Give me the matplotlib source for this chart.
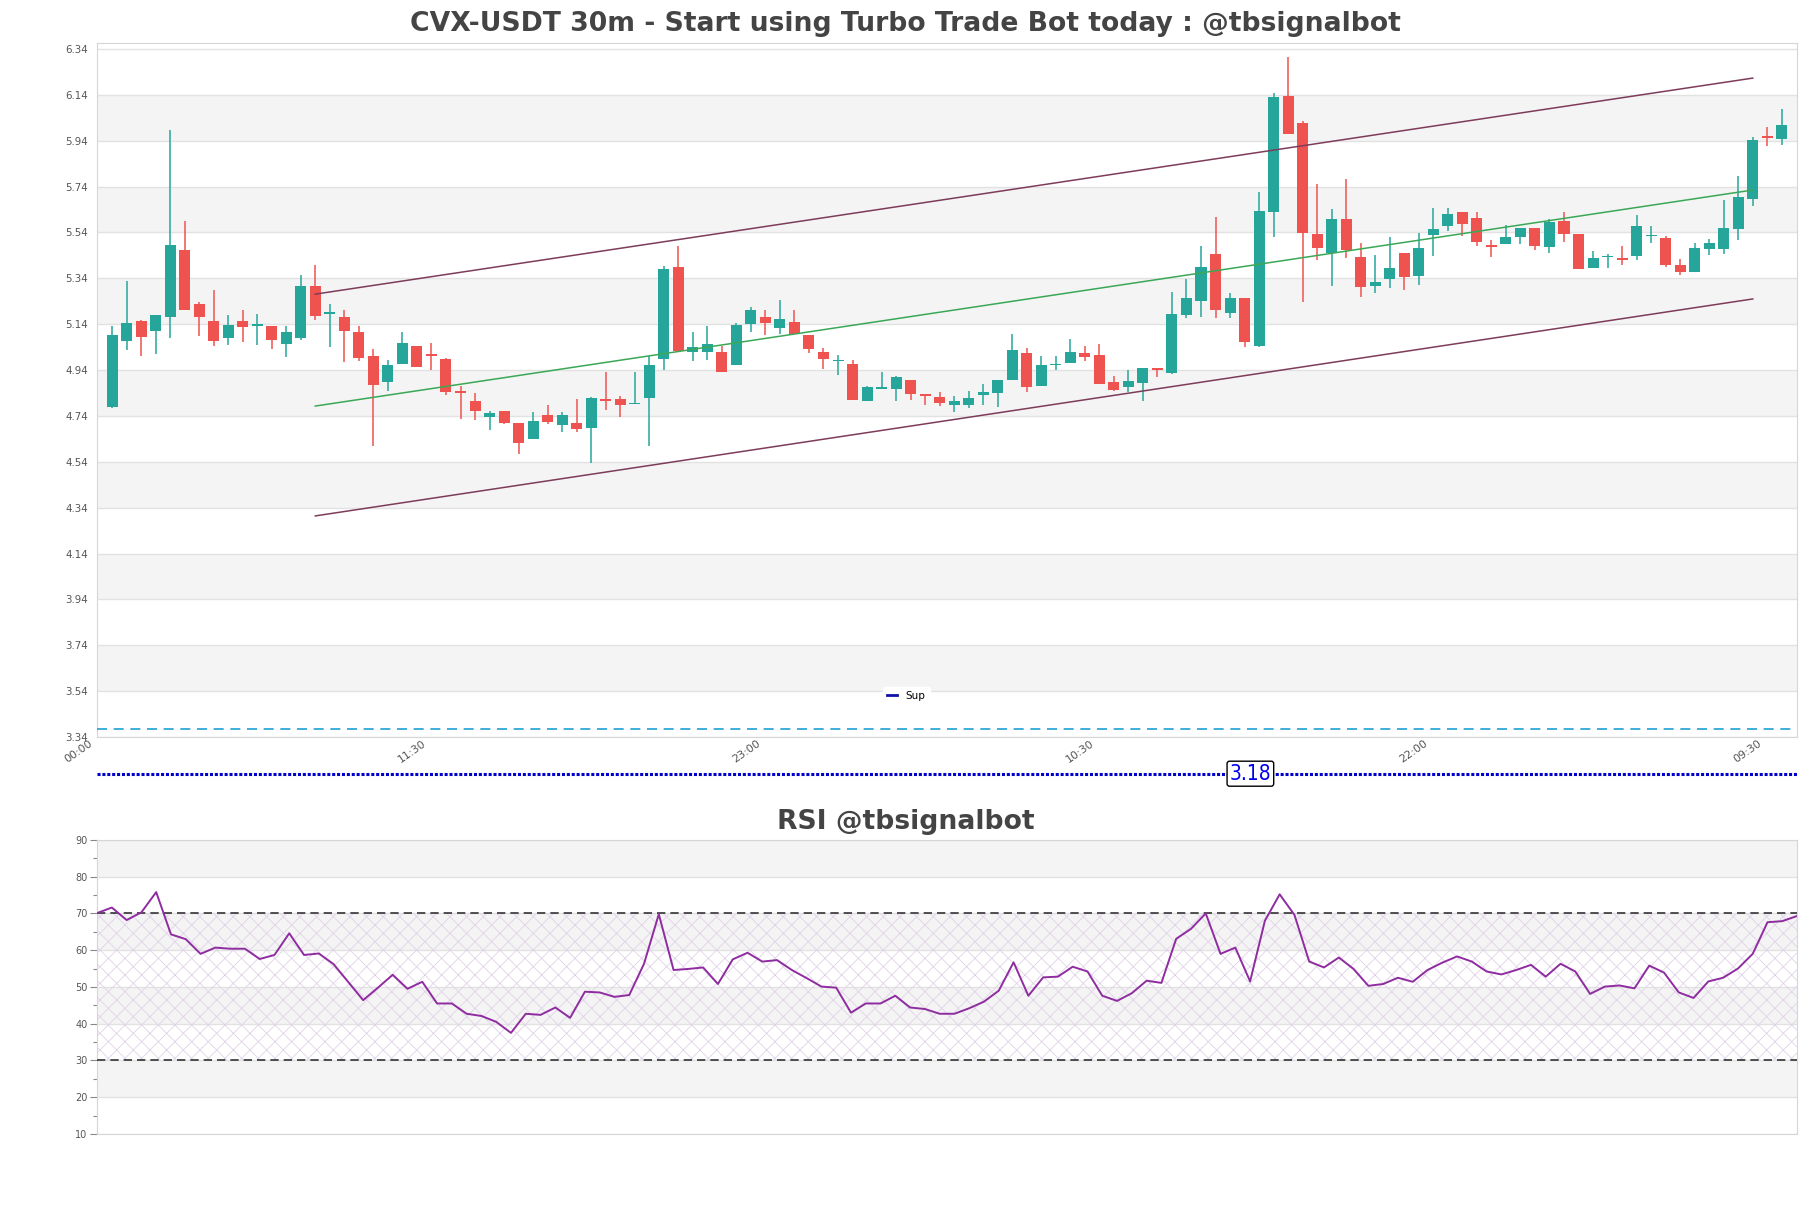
import numpy as np
import matplotlib
matplotlib.use("Agg")
import matplotlib.pyplot as plt
import matplotlib.transforms as mtransforms
from matplotlib.lines import Line2D

# ---- data ----
opens = [4.778, 5.066, 5.156, 5.109, 5.172, 5.465, 5.226, 5.156, 5.079, 5.156,
         5.133, 5.134, 5.053, 5.079, 5.308, 5.186, 5.173, 5.104, 5.003, 4.887,
         4.966, 5.047, 5.012, 4.990, 4.850, 4.807, 4.734, 4.760, 4.707, 4.638,
         4.744, 4.699, 4.711, 4.686, 4.814, 4.814, 4.791, 4.817, 4.987, 5.390,
         5.018, 5.018, 5.020, 4.961, 5.140, 5.173, 5.122, 5.151, 5.095, 5.020,
         4.978, 4.968, 4.807, 4.856, 4.859, 4.898, 4.834, 4.824, 4.787, 4.787,
         4.830, 4.839, 4.896, 5.016, 4.869, 4.961, 4.970, 5.015, 5.007, 4.888,
         4.865, 4.882, 4.948, 4.929, 5.179, 5.240, 5.448, 5.189, 5.256, 5.047,
         5.628, 6.136, 6.019, 5.535, 5.451, 5.600, 5.435, 5.305, 5.337, 5.451,
         5.349, 5.528, 5.567, 5.631, 5.605, 5.482, 5.490, 5.520, 5.560, 5.477,
         5.591, 5.535, 5.384, 5.432, 5.429, 5.436, 5.523, 5.517, 5.398, 5.368,
         5.467, 5.467, 5.554, 5.684, 5.960, 5.946]
highs = [5.130, 5.330, 5.160, 5.178, 5.988, 5.592, 5.237, 5.287, 5.182, 5.200,
         5.186, 5.134, 5.134, 5.356, 5.396, 5.230, 5.204, 5.130, 5.030, 4.986,
         5.108, 5.047, 5.056, 4.993, 4.869, 4.840, 4.763, 4.763, 4.707, 4.759,
         4.789, 4.759, 4.814, 4.823, 4.930, 4.826, 4.930, 5.003, 5.392, 5.481,
         5.108, 5.130, 5.047, 5.146, 5.214, 5.204, 5.244, 5.204, 5.095, 5.038,
         5.007, 4.986, 4.871, 4.933, 4.913, 4.898, 4.837, 4.845, 4.829, 4.850,
         4.877, 4.898, 5.099, 5.038, 5.003, 5.000, 5.077, 5.044, 5.055, 4.916,
         4.942, 4.951, 4.951, 5.282, 5.337, 5.482, 5.609, 5.276, 5.256, 5.716,
         6.148, 6.306, 6.027, 5.753, 5.644, 5.775, 5.496, 5.442, 5.520, 5.451,
         5.539, 5.648, 5.648, 5.631, 5.631, 5.509, 5.573, 5.560, 5.560, 5.600,
         5.629, 5.535, 5.459, 5.445, 5.481, 5.616, 5.568, 5.525, 5.424, 5.496,
         5.513, 5.683, 5.785, 5.956, 5.999, 6.080]
lows = [4.775, 5.027, 5.000, 5.009, 5.079, 5.201, 5.088, 5.044, 5.048, 5.062,
        5.048, 5.031, 4.996, 5.070, 5.157, 5.040, 4.974, 4.979, 4.608, 4.848,
        4.966, 4.953, 4.939, 4.830, 4.727, 4.721, 4.678, 4.705, 4.573, 4.638,
        4.705, 4.669, 4.670, 4.534, 4.765, 4.734, 4.791, 4.608, 4.939, 5.019,
        4.978, 4.983, 4.930, 4.961, 5.108, 5.095, 5.099, 5.096, 5.013, 4.946,
        4.917, 4.811, 4.803, 4.856, 4.804, 4.808, 4.787, 4.784, 4.756, 4.773,
        4.787, 4.778, 4.896, 4.843, 4.869, 4.941, 4.970, 4.981, 4.878, 4.848,
        4.846, 4.803, 4.909, 4.923, 5.167, 5.170, 5.166, 5.166, 5.039, 5.039,
        5.520, 5.968, 5.235, 5.419, 5.305, 5.427, 5.257, 5.276, 5.296, 5.288,
        5.310, 5.436, 5.545, 5.526, 5.480, 5.433, 5.490, 5.488, 5.464, 5.449,
        5.499, 5.381, 5.384, 5.384, 5.398, 5.421, 5.493, 5.388, 5.353, 5.368,
        5.440, 5.445, 5.506, 5.654, 5.915, 5.920]
closes = [5.091, 5.147, 5.083, 5.178, 5.487, 5.201, 5.172, 5.066, 5.138, 5.127,
          5.135, 5.070, 5.104, 5.308, 5.175, 5.188, 5.109, 4.992, 4.874, 4.960,
          5.056, 4.953, 5.000, 4.845, 4.840, 4.760, 4.753, 4.708, 4.621, 4.720,
          4.712, 4.744, 4.682, 4.816, 4.807, 4.787, 4.798, 4.962, 5.382, 5.023,
          5.042, 5.054, 4.933, 5.138, 5.204, 5.144, 5.164, 5.096, 5.031, 4.987,
          4.984, 4.811, 4.864, 4.866, 4.909, 4.834, 4.826, 4.795, 4.803, 4.820,
          4.845, 4.898, 5.029, 4.865, 4.964, 4.967, 5.020, 4.996, 4.881, 4.855,
          4.893, 4.951, 4.939, 5.186, 5.256, 5.391, 5.201, 5.252, 5.061, 5.635,
          6.132, 5.968, 5.538, 5.471, 5.600, 5.462, 5.301, 5.326, 5.387, 5.344,
          5.472, 5.557, 5.622, 5.577, 5.499, 5.478, 5.520, 5.560, 5.480, 5.587,
          5.533, 5.381, 5.429, 5.437, 5.419, 5.570, 5.529, 5.397, 5.368, 5.472,
          5.496, 5.561, 5.695, 5.945, 5.950, 6.009]
rsi = [70.1, 71.6, 68.2, 70.3, 75.8, 64.3, 63.0, 59.0, 60.7, 60.4,
       60.4, 57.6, 58.7, 64.6, 58.7, 59.1, 56.2, 51.3, 46.4, 49.8,
       53.3, 49.5, 51.4, 45.5, 45.5, 42.7, 42.1, 40.5, 37.5, 42.7,
       42.4, 44.4, 41.6, 48.7, 48.5, 47.3, 47.8, 56.3, 69.8, 54.6,
       54.9, 55.3, 50.8, 57.5, 59.3, 56.9, 57.3, 54.6, 52.4, 50.1,
       49.8, 43.0, 45.5, 45.5, 47.6, 44.4, 44.0, 42.7, 42.7, 44.2,
       46.0, 49.0, 56.7, 47.6, 52.6, 52.8, 55.5, 54.2, 47.6, 46.2,
       48.3, 51.7, 51.1, 63.1, 65.8, 70.0, 59.0, 60.7, 51.5, 68.0,
       75.2, 69.6, 56.9, 55.3, 58.0, 54.9, 50.3, 50.8, 52.5, 51.4,
       54.6, 56.6, 58.3, 56.9, 54.2, 53.4, 54.6, 56.0, 52.8, 56.3,
       54.2, 48.1, 50.1, 50.4, 49.6, 55.8, 53.9, 48.5, 47.0, 51.5,
       52.5, 55.0, 59.0, 67.6, 67.9, 69.3]

time_labels = ["00:00", "11:30", "23:00", "10:30", "22:00", "09:30"]
label_every = 23

channel_x = [14, 113]
channel_upper = [5.271, 6.213]
channel_mid = [4.783, 5.725]
channel_lower = [4.304, 5.250]

support_level = 3.18
dashed_level = 3.375
rsi_upper, rsi_lower = 70, 30

price_ticks = [6.34 - 0.2 * i for i in range(16)]

# ---- figure ----
fig = plt.figure(figsize=(18.11, 12.08), dpi=100)
ax = fig.add_axes([0.0536, 0.3899, 0.9387, 0.5745])
ax_rsi = fig.add_axes([0.0536, 0.0613, 0.9387, 0.2434])

green = "#26a69a"
red = "#ef5350"
grid_c = "#e2e2e2"
band_c = "#f4f4f4"
text_c = "#555555"

n = len(closes)
x = np.arange(n)
o = np.array(opens)
c = np.array(closes)
h = np.array(highs)
l = np.array(lows)
up = c >= o
cols = np.where(up, green, red)

# background bands + grid
yl = (3.34, 6.366)
for i, t in enumerate(sorted(price_ticks)):
    if i % 2 == 1 and t + 0.2 <= 6.35:
        ax.axhspan(t, t + 0.2, color=band_c, zorder=0, lw=0)
for t in price_ticks:
    ax.axhline(t, color=grid_c, lw=1, zorder=0.5)

# candles
ax.vlines(x, l, h, colors=cols, lw=1.1, zorder=2)
body_bottom = np.minimum(o, c)
body_h = np.maximum(np.abs(c - o), 0.006)
ax.bar(x, body_h, bottom=body_bottom, width=0.76, color=cols, zorder=3, lw=0)

# channel
ax.plot(channel_x, channel_upper, color="#7d3c5a", lw=1.1, zorder=4)
ax.plot(channel_x, channel_lower, color="#7d3c5a", lw=1.1, zorder=4)
ax.plot(channel_x, channel_mid, color="#3aa856", lw=1.1, zorder=4)

# support lines
ax.axhline(dashed_level, color="#1e9fd6", lw=1.2, ls=(0, (6, 4)), zorder=4)
ax.axhline(support_level, color="#0000cc", lw=2.2, ls=(0, (1, 0.6)), clip_on=False, zorder=4)
ax.text(78.4, support_level, f"{support_level:.2f}", color="#0000ee", fontsize=15,
        ha="center", va="center", clip_on=False, zorder=6, fontstretch="condensed",
        bbox=dict(boxstyle="round,pad=0.12", fc="white", ec="black", lw=1))

leg = ax.legend([Line2D([0], [0], color="#1010aa", lw=2)], ["Sup"],
                loc="center", bbox_to_anchor=(0.476, 0.059), fontsize=7.5,
                frameon=True, framealpha=1, edgecolor="white", handlelength=1.0)

ax.set_xlim(-1.03, 116.05)
ax.set_ylim(*yl)
ax.set_yticks(price_ticks)
ax.set_yticklabels([f"{t:.2f}" for t in price_ticks])
ticks = [i * label_every for i in range(len(time_labels))]
ax.set_xticks(ticks)
ax.set_xticklabels(time_labels, rotation=35, ha="right")
ax.tick_params(axis="both", length=0, colors=text_c)
ax.tick_params(axis="y", labelsize=7.4, pad=6.5)
ax.tick_params(axis="x", labelsize=8, pad=1)
offset = mtransforms.ScaledTranslation(-0.18, 0, fig.dpi_scale_trans)
for lab in ax.get_xticklabels():
    lab.set_transform(lab.get_transform() + offset)
for s in ax.spines.values():
    s.set_color("#d6d6d6")

fig.text(0.5, 0.980, "CVX-USDT 30m - Start using Turbo Trade Bot today : @tbsignalbot",
         ha="center", va="center", fontsize=19.2, fontweight="bold", color="#444444")

# ---- RSI ----
xr = np.arange(len(rsi))
for lo_, hi_ in [(80, 90), (60, 70), (40, 50), (20, 30)]:
    ax_rsi.axhspan(lo_, hi_, color=band_c, zorder=0, lw=0)
for t in range(10, 91, 10):
    ax_rsi.axhline(t, color=grid_c, lw=1, zorder=0.5)
plt.rcParams["hatch.linewidth"] = 0.6
ax_rsi.fill_between([0, len(rsi) - 1], rsi_lower, rsi_upper, facecolor="none",
                    edgecolor="#e0d2e8", hatch="xx", lw=0, zorder=1)
ax_rsi.axhline(rsi_upper, color="#333333", lw=1.2, ls=(0, (5, 3)), zorder=3)
ax_rsi.axhline(rsi_lower, color="#333333", lw=1.2, ls=(0, (5, 3)), zorder=3)
ax_rsi.plot(xr, rsi, color="#8e2ca0", lw=1.4, zorder=4)
ax_rsi.set_xlim(0, len(rsi) - 1)
ax_rsi.set_ylim(10, 90)
ax_rsi.set_yticks(range(10, 91, 10))
ax_rsi.set_yticks(range(15, 90, 10), minor=True)
ax_rsi.set_xticks([])
ax_rsi.tick_params(axis="y", which="major", length=5, width=0.8, color="#888888",
                   labelsize=7, labelcolor=text_c, pad=2)
ax_rsi.tick_params(axis="y", which="minor", length=3, width=0.8, color="#888888")
for s in ax_rsi.spines.values():
    s.set_color("#d6d6d6")

fig.text(0.5, 0.3195, "RSI @tbsignalbot", ha="center", va="center",
         fontsize=19.2, fontweight="bold", color="#444444")

fig.savefig("out.png", dpi=100)
